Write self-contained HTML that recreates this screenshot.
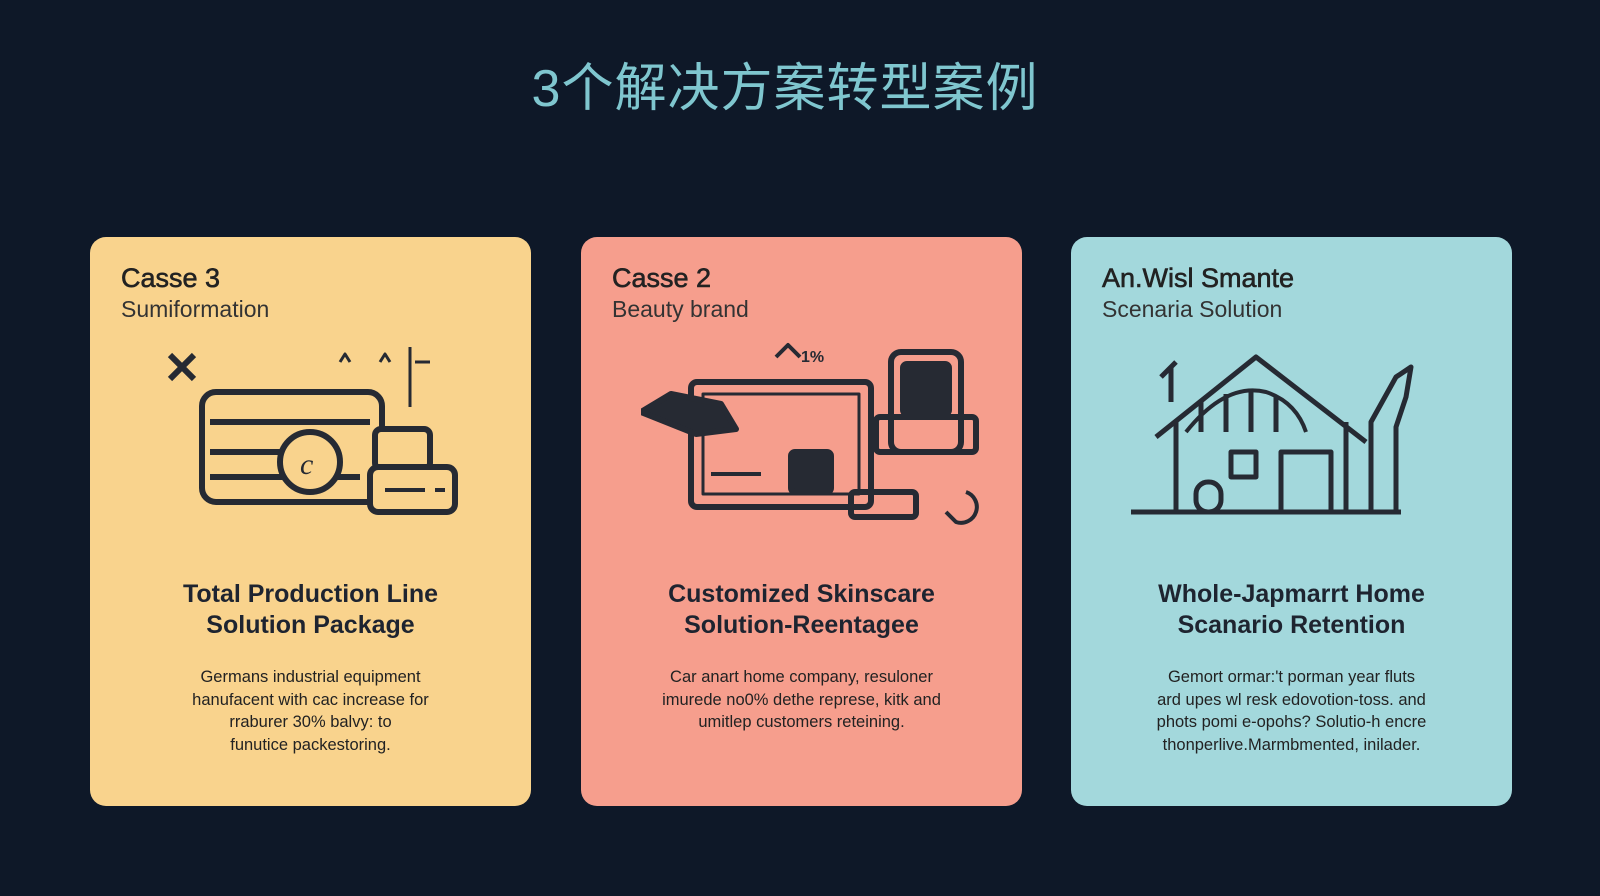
<!DOCTYPE html>
<html><head><meta charset="utf-8"><style>
body{margin:0;width:1600px;height:896px;background:#0e1828;font-family:"Liberation Sans","Noto Sans CJK SC",sans-serif;position:relative;overflow:hidden}
h1{position:absolute;top:46px;left:-15px;width:1600px;text-align:center;margin:0;font-weight:400;font-size:52px;color:#7fc6cf;letter-spacing:1px}
.card{position:absolute;top:237px;width:441px;height:569px;border-radius:16px;color:#1e2430}
.c1{left:90px;background:#f9d38d}.c2{left:581px;background:#f69e8d}.c3{left:1071px;background:#a3d8dc}
.h{position:absolute;left:31px;top:26px;font-size:27px;font-weight:400;color:#222;-webkit-text-stroke:0.6px #222}
.s{position:absolute;left:31px;top:59px;font-size:23px;color:#333}
.t{position:absolute;top:342px;left:0;width:100%;text-align:center;font-size:25px;font-weight:700;line-height:31px}
.d{position:absolute;top:429px;left:20px;right:20px;text-align:center;font-size:16.5px;line-height:22.5px;color:#222}
svg{position:absolute;left:60px;top:105px}
</style></head><body>
<h1>3个解决方案转型案例</h1>
<div class="card c1"><div class="h">Casse 3</div><div class="s">Sumiformation</div>
<svg width="320" height="190" viewBox="0 0 320 190" fill="none" stroke="#262a33" stroke-width="6" stroke-linejoin="round">
<path d="M20 13l24 24M44 13L20 37"/>
<rect x="52" y="50" width="180" height="110" rx="14"/>
<path d="M60 80h160M60 110h120M60 135h150"/>
<circle cx="160" cy="120" r="30" fill="#f9d38d"/>
<text x="150" y="132" font-size="30" fill="#262a33" stroke="none" font-style="italic" font-family="Liberation Serif">c</text>
<rect x="225" y="87" width="55" height="40" rx="6" fill="#f9d38d"/>
<rect x="220" y="125" width="85" height="45" rx="8" fill="#f9d38d"/>
<path d="M235 148h40M285 148h10" stroke-width="4"/>
<path d="M190 20l5 -8 5 8M230 20l5-8 5 8M260 5v60M265 20l15 0" stroke-width="3"/>
</svg>
<div class="t">Total Production Line<br>Solution Package</div>
<div class="d">Germans industrial equipment<br>hanufacent with cac increase for<br>rraburer 30% balvy: to<br>funutice packestoring.</div></div>
<div class="card c2"><div class="h">Casse 2</div><div class="s">Beauty brand</div>
<svg width="340" height="190" viewBox="0 0 340 190" fill="none" stroke="#262a33" stroke-width="6" stroke-linejoin="round">
<rect x="50" y="40" width="180" height="125" rx="6"/>
<rect x="62" y="52" width="156" height="100" stroke-width="3"/>
<path d="M0 70l30-18 50 10 15 25-40 5z" fill="#262a33"/>
<rect x="250" y="10" width="70" height="100" rx="10"/>
<rect x="262" y="22" width="46" height="50" rx="4" fill="#262a33"/>
<rect x="235" y="75" width="100" height="35" rx="4"/>
<rect x="150" y="110" width="40" height="40" rx="4" fill="#262a33"/>
<rect x="210" y="150" width="65" height="25" rx="4"/>
<path d="M70 132h50M135 15l12-12 12 12M305 170l10 10a15 15 0 1 0 10-30" stroke-width="4"/>
<text x="160" y="20" font-size="16" fill="#262a33" stroke="none" font-weight="700">1%</text>
</svg>
<div class="t">Customized Skinscare<br>Solution-Reentagee</div>
<div class="d">Car anart home company, resuloner<br>imurede no0% dethe represe, kitk and<br>umitlep customers reteining.</div></div>
<div class="card c3"><div class="h">An.Wisl Smante</div><div class="s">Scenaria Solution</div>
<svg width="320" height="190" viewBox="0 0 320 190" fill="none" stroke="#262a33" stroke-width="5" stroke-linejoin="round">
<path d="M25 95L125 15 235 100"/>
<path d="M45 80v90h170V80"/>
<path d="M55 90q40-50 80-40q30 10 40 40" stroke-width="4"/>
<path d="M70 90v-30M95 90v-38M120 90v-40M145 90v-35"/>
<rect x="65" y="140" width="25" height="30" rx="12"/>
<rect x="100" y="110" width="25" height="25"/>
<rect x="150" y="110" width="50" height="60"/>
<path d="M40 60v-35M30 35l15-15M0 170h270"/>
<path d="M240 170v-90l25-45 15-10-5 30-10 30v85"/>
</svg>
<div class="t">Whole-Japmarrt Home<br>Scanario Retention</div>
<div class="d">Gemort ormar:'t porman year fluts<br>ard upes wl resk edovotion-toss. and<br>phots pomi e-opohs? Solutio-h encre<br>thonperlive.Marmbmented, inilader.</div></div>
</body></html>
